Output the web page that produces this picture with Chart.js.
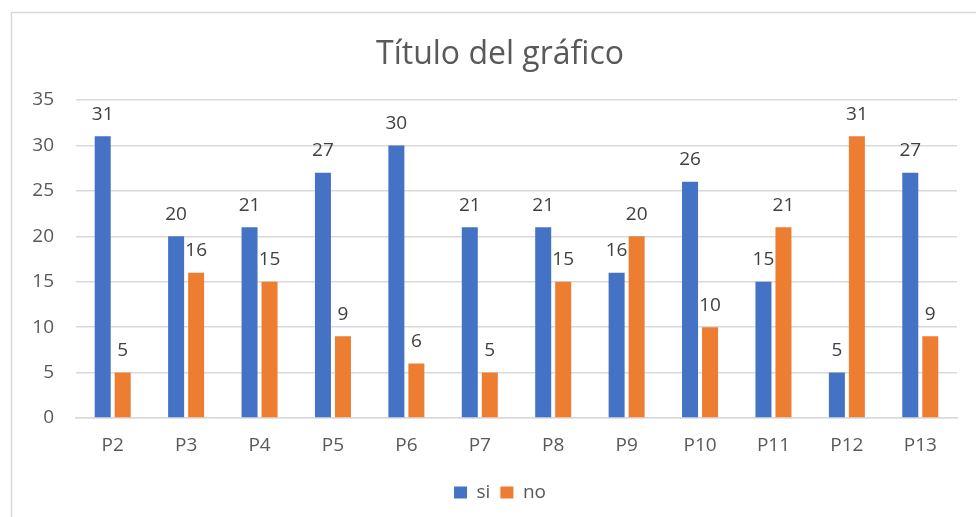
<!DOCTYPE html>
<html>
<head>
<meta charset="utf-8">
<script src="https://cdn.jsdelivr.net/npm/chart.js@4/dist/chart.umd.min.js"></script>
<style>
html,body{margin:0;padding:0;background:#fff;overflow:hidden;}
#wrap{position:relative;width:976px;height:517px;}
</style>
</head>
<body>
<div id="wrap"><canvas id="c" width="976" height="517"></canvas></div>
<script>
const categories = ['P2','P3','P4','P5','P6','P7','P8','P9','P10','P11','P12','P13'];
const siValues = [31,20,21,27,30,21,21,16,26,15,5,27];
const noValues = [5,16,15,9,6,5,15,20,10,21,31,9];
const yTicks = [0,5,10,15,20,25,30,35];
const seriesNames = ['si','no'];
const chartTitle = 'Título del gráfico';

const FONT = "'Open Sans', sans-serif";

const frame = {
  id: 'frame',
  beforeDraw(chart) {
    const ctx = chart.ctx;
    ctx.save();
    ctx.fillStyle = '#fff';
    ctx.fillRect(0, 0, chart.width, chart.height);
    ctx.strokeStyle = '#d9d9d9';
    ctx.lineWidth = 1.5;
    ctx.beginPath();
    ctx.moveTo(11.5, chart.height);
    ctx.lineTo(11.5, 12.5);
    ctx.lineTo(chart.width, 12.5);
    ctx.stroke();
    ctx.restore();
  }
};

const valueLabels = {
  id: 'valueLabels',
  afterDatasetsDraw(chart) {
    const ctx = chart.ctx;
    ctx.save();
    ctx.font = "19px " + FONT;
    ctx.fillStyle = '#404040';
    ctx.textAlign = 'center';
    ctx.textBaseline = 'middle';
    chart.data.datasets.forEach((ds, i) => {
      chart.getDatasetMeta(i).data.forEach((bar, j) => {
        ctx.fillText(String(ds.data[j]), bar.x, bar.y - 22);
      });
    });
    ctx.restore();
  }
};

new Chart(document.getElementById('c'), {
  type: 'bar',
  data: {
    labels: categories,
    datasets: [
      { label: seriesNames[0], data: siValues, backgroundColor: '#4472C4', barPercentage: 0.8, categoryPercentage: 0.545 },
      { label: seriesNames[1], data: noValues, backgroundColor: '#ED7D31', barPercentage: 0.8, categoryPercentage: 0.545 }
    ]
  },
  options: {
    responsive: false,
    animation: false,
    layout: { padding: { left: 24, right: 0, top: 0, bottom: 5 } },
    plugins: {
      title: {
        display: true,
        text: chartTitle,
        color: '#595959',
        font: { family: FONT, size: 32, weight: 'normal' },
        padding: { top: 36, bottom: 25.6 }
      },
      legend: {
        position: 'bottom',
        labels: {
          color: '#595959',
          font: { family: FONT, size: 19 },
          boxWidth: 13,
          boxHeight: 12,
          padding: 10
        }
      },
      tooltip: { enabled: false }
    },
    scales: {
      x: {
        grid: { display: false, drawTicks: false },
        border: { display: true, color: '#d9d9d9', width: 1.5 },
        ticks: { color: '#595959', font: { family: FONT, size: 19 }, padding: 16 },
        afterFit(s) { s.height = 55; }
      },
      y: {
        min: 0, max: 35,
        afterBuildTicks(s) { s.ticks = yTicks.map(v => ({ value: v })); },
        grid: { color: '#d9d9d9', lineWidth: 1.5, drawTicks: false },
        border: { display: false },
        ticks: { color: '#595959', font: { family: FONT, size: 19 }, padding: 22, stepSize: 5 },
        afterFit(s) { s.width = 52; }
      },
      y2: {
        position: 'right',
        display: true,
        grid: { display: false, drawTicks: false },
        border: { display: false },
        ticks: { display: false },
        afterFit(s) { s.width = 19; }
      }
    }
  },
  plugins: [frame, valueLabels]
});
</script>
</body>
</html>
